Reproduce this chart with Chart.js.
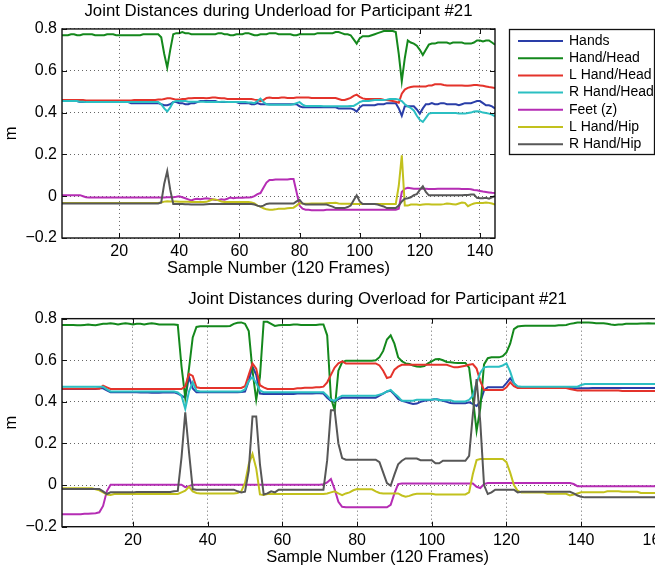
<!DOCTYPE html>
<html>
<head>
<meta charset="utf-8">
<script src="https://cdn.jsdelivr.net/npm/chart.js@4.4.0/dist/chart.umd.min.js"></script>
<style>
  html, body { margin: 0; padding: 0; background: #fff; overflow: hidden; width: 655px; height: 573px; }
  canvas { position: absolute; left: 0; }
  #top { top: 0; }
  #bottom { top: 280px; }
</style>
</head>
<body>
<canvas id="top" width="655" height="280"></canvas>
<canvas id="bottom" width="720" height="293"></canvas>
<script>
// series names and colours (MATLAB style)
var seriesNames = ['Hands', 'Hand/Head', 'L Hand/Head', 'R Hand/Head', 'Feet (z)', 'L Hand/Hip', 'R Hand/Hip'];
var seriesColors = ['#2a3ea8', '#14881c', '#e4332b', '#2bbfc2', '#b52db4', '#c2c11d', '#575757'];

var xTicksTop = [20, 40, 60, 80, 100, 120, 140];
var xTicksBottom = [20, 40, 60, 80, 100, 120, 140, 160];
var yTicks = [-0.2, 0, 0.2, 0.4, 0.6, 0.8];
var yTickLabels = ['\u22120.2', '0', '0.2', '0.4', '0.6', '0.8'];

// ---- Underload, samples 1..145 ----
var topHands = [0.455,0.455,0.455,0.455,0.455,0.455,0.45,0.45,0.45,0.45,
 0.45,0.45,0.45,0.45,0.45,0.45,0.45,0.45,0.45,0.45,
 0.45,0.45,0.45,0.445,0.445,0.445,0.445,0.445,0.445,0.445,
 0.445,0.445,0.445,0.44,0.435,0.435,0.44,0.45,0.45,0.445,
 0.445,0.44,0.44,0.445,0.445,0.45,0.455,0.455,0.455,0.455,
 0.455,0.455,0.45,0.45,0.45,0.45,0.45,0.45,0.45,0.445,
 0.445,0.445,0.445,0.44,0.44,0.445,0.44,0.44,0.44,0.44,
 0.44,0.44,0.44,0.44,0.44,0.44,0.44,0.44,0.44,0.43,
 0.425,0.425,0.425,0.425,0.425,0.425,0.425,0.425,0.425,0.425,
 0.425,0.425,0.42,0.42,0.42,0.42,0.42,0.415,0.405,0.425,
 0.435,0.435,0.435,0.435,0.435,0.44,0.44,0.44,0.445,0.445,
 0.445,0.445,0.42,0.385,0.43,0.43,0.43,0.43,0.415,0.395,
 0.42,0.44,0.44,0.445,0.44,0.44,0.445,0.445,0.44,0.44,
 0.44,0.44,0.435,0.44,0.445,0.445,0.445,0.45,0.455,0.455,
 0.445,0.435,0.435,0.43,0.42];
var topHandHead = [0.77,0.77,0.77,0.775,0.775,0.77,0.77,0.775,0.775,0.775,
 0.775,0.77,0.77,0.77,0.77,0.775,0.775,0.775,0.77,0.77,
 0.77,0.77,0.77,0.77,0.77,0.77,0.77,0.775,0.775,0.775,
 0.775,0.775,0.775,0.76,0.68,0.615,0.70,0.775,0.78,0.78,
 0.785,0.78,0.78,0.775,0.775,0.775,0.775,0.775,0.775,0.775,
 0.775,0.775,0.78,0.78,0.775,0.775,0.77,0.77,0.775,0.775,
 0.775,0.78,0.78,0.775,0.77,0.77,0.775,0.775,0.775,0.78,
 0.78,0.78,0.775,0.775,0.775,0.775,0.775,0.77,0.77,0.775,
 0.775,0.775,0.775,0.775,0.775,0.78,0.78,0.78,0.78,0.78,
 0.78,0.785,0.785,0.78,0.775,0.775,0.77,0.75,0.73,0.755,
 0.765,0.765,0.765,0.77,0.775,0.78,0.785,0.79,0.79,0.79,
 0.79,0.785,0.68,0.55,0.66,0.745,0.735,0.73,0.72,0.70,
 0.675,0.70,0.725,0.73,0.73,0.735,0.735,0.735,0.735,0.73,
 0.735,0.735,0.735,0.735,0.73,0.73,0.73,0.735,0.745,0.745,
 0.74,0.745,0.745,0.735,0.725];
var topLHandHead = [0.46,0.46,0.46,0.46,0.46,0.46,0.46,0.46,0.458,0.458,
 0.458,0.458,0.458,0.458,0.458,0.458,0.458,0.458,0.458,0.458,
 0.458,0.458,0.458,0.458,0.46,0.46,0.46,0.46,0.46,0.46,
 0.46,0.46,0.462,0.462,0.465,0.468,0.468,0.465,0.462,0.462,
 0.465,0.465,0.468,0.468,0.47,0.47,0.47,0.47,0.468,0.47,
 0.472,0.472,0.47,0.468,0.468,0.465,0.465,0.465,0.465,0.465,
 0.465,0.465,0.465,0.465,0.462,0.46,0.455,0.46,0.47,0.472,
 0.47,0.47,0.47,0.472,0.472,0.47,0.47,0.47,0.472,0.472,
 0.472,0.472,0.472,0.47,0.47,0.47,0.47,0.47,0.47,0.47,
 0.47,0.47,0.465,0.46,0.46,0.465,0.47,0.48,0.486,0.475,
 0.468,0.465,0.465,0.465,0.465,0.465,0.465,0.462,0.46,0.458,
 0.455,0.452,0.447,0.49,0.51,0.518,0.522,0.525,0.525,0.525,
 0.525,0.525,0.53,0.53,0.535,0.535,0.535,0.532,0.53,0.53,
 0.53,0.53,0.53,0.53,0.528,0.528,0.53,0.532,0.532,0.53,
 0.528,0.525,0.522,0.52,0.518];
var topRHandHead = [0.455,0.455,0.455,0.455,0.455,0.455,0.452,0.452,0.45,0.45,
 0.45,0.45,0.45,0.45,0.45,0.45,0.45,0.45,0.45,0.45,
 0.45,0.45,0.45,0.45,0.45,0.45,0.45,0.45,0.45,0.45,
 0.45,0.45,0.45,0.44,0.42,0.405,0.425,0.45,0.455,0.455,
 0.455,0.455,0.452,0.452,0.452,0.452,0.452,0.452,0.45,0.45,
 0.45,0.45,0.45,0.452,0.452,0.45,0.45,0.45,0.45,0.45,
 0.45,0.45,0.448,0.448,0.445,0.455,0.467,0.45,0.44,0.438,
 0.438,0.438,0.438,0.438,0.438,0.438,0.438,0.44,0.445,0.45,
 0.438,0.432,0.432,0.432,0.432,0.432,0.432,0.43,0.43,0.43,
 0.43,0.43,0.43,0.43,0.43,0.43,0.432,0.432,0.44,0.45,
 0.455,0.455,0.455,0.458,0.46,0.46,0.46,0.46,0.462,0.465,
 0.465,0.465,0.462,0.455,0.44,0.43,0.422,0.41,0.385,0.365,
 0.355,0.375,0.395,0.398,0.398,0.398,0.398,0.398,0.398,0.398,
 0.398,0.398,0.395,0.395,0.395,0.398,0.4,0.405,0.406,0.405,
 0.4,0.398,0.395,0.39,0.382];
var topFeet = [0.005,0.005,0.005,0.005,0.005,0.005,0.005,0,-0.005,-0.006,
 -0.006,-0.006,-0.006,-0.006,-0.006,-0.006,-0.006,-0.006,-0.006,-0.006,
 -0.006,-0.006,-0.006,-0.006,-0.006,-0.006,-0.006,-0.006,-0.006,-0.006,
 -0.006,-0.006,-0.006,-0.006,-0.006,-0.005,-0.005,-0.005,-0.003,0,
 -0.005,-0.01,-0.015,-0.02,-0.015,-0.012,-0.015,-0.012,-0.01,-0.012,
 -0.015,-0.018,-0.018,-0.015,-0.017,-0.012,-0.006,-0.01,-0.008,-0.008,
 -0.008,-0.006,-0.006,-0.005,0,0.01,0.015,0.04,0.065,0.078,
 0.078,0.08,0.08,0.08,0.08,0.08,0.082,0.082,0.02,-0.045,
 -0.06,-0.065,-0.065,-0.067,-0.067,-0.067,-0.067,-0.067,-0.065,-0.065,
 -0.065,-0.065,-0.065,-0.065,-0.065,-0.065,-0.065,-0.065,-0.065,-0.065,
 -0.065,-0.065,-0.065,-0.065,-0.065,-0.065,-0.065,-0.065,-0.065,-0.065,
 -0.065,-0.065,-0.06,0.02,0.035,0.04,0.038,0.036,0.036,0.036,
 0.036,0.036,0.035,0.035,0.035,0.036,0.036,0.036,0.036,0.036,
 0.036,0.036,0.036,0.035,0.035,0.035,0.033,0.03,0.028,0.025,
 0.022,0.02,0.018,0.016,0.015];
var topLHandHip = [-0.033,-0.033,-0.033,-0.033,-0.033,-0.033,-0.033,-0.033,-0.033,-0.033,
 -0.033,-0.033,-0.033,-0.033,-0.033,-0.033,-0.033,-0.033,-0.033,-0.033,
 -0.032,-0.032,-0.032,-0.032,-0.032,-0.032,-0.032,-0.032,-0.032,-0.032,
 -0.032,-0.032,-0.032,-0.03,-0.026,-0.024,-0.025,-0.025,-0.025,-0.026,
 -0.026,-0.027,-0.027,-0.028,-0.028,-0.028,-0.028,-0.028,-0.027,-0.022,
 -0.016,-0.016,-0.02,-0.025,-0.028,-0.028,-0.028,-0.028,-0.028,-0.028,
 -0.028,-0.028,-0.028,-0.03,-0.035,-0.045,-0.05,-0.058,-0.063,-0.065,
 -0.065,-0.063,-0.06,-0.06,-0.06,-0.058,-0.056,-0.055,-0.045,-0.033,
 -0.035,-0.036,-0.036,-0.035,-0.035,-0.035,-0.035,-0.035,-0.034,-0.033,
 -0.033,-0.032,-0.035,-0.036,-0.036,-0.036,-0.036,-0.037,-0.037,-0.037,
 -0.037,-0.037,-0.037,-0.037,-0.037,-0.037,-0.037,-0.037,-0.037,-0.037,
 -0.037,-0.037,0.05,0.195,-0.045,-0.045,-0.04,-0.04,-0.04,-0.042,
 -0.04,-0.038,-0.038,-0.04,-0.04,-0.04,-0.04,-0.038,-0.035,-0.036,
 -0.038,-0.04,-0.035,-0.03,-0.032,-0.048,-0.04,-0.035,-0.032,-0.032,
 -0.032,-0.03,-0.032,-0.035,-0.04];
var topRHandHip = [-0.035,-0.035,-0.035,-0.035,-0.035,-0.035,-0.035,-0.035,-0.035,-0.035,
 -0.035,-0.035,-0.035,-0.035,-0.035,-0.035,-0.035,-0.035,-0.035,-0.035,
 -0.035,-0.035,-0.035,-0.035,-0.035,-0.035,-0.035,-0.035,-0.035,-0.035,
 -0.035,-0.035,-0.035,-0.03,0.06,0.12,0.03,-0.037,-0.037,-0.037,
 -0.037,-0.038,-0.038,-0.04,-0.04,-0.04,-0.04,-0.04,-0.038,-0.037,
 -0.037,-0.037,-0.037,-0.037,-0.037,-0.037,-0.037,-0.037,-0.037,-0.037,
 -0.037,-0.037,-0.037,-0.037,-0.04,-0.045,-0.049,-0.045,-0.037,-0.035,
 -0.035,-0.035,-0.035,-0.035,-0.035,-0.035,-0.035,-0.035,-0.025,-0.017,
 -0.035,-0.04,-0.04,-0.04,-0.04,-0.04,-0.04,-0.04,-0.04,-0.045,
 -0.05,-0.057,-0.057,-0.057,-0.057,-0.052,-0.045,-0.02,0.004,-0.025,
 -0.037,-0.037,-0.037,-0.037,-0.037,-0.04,-0.045,-0.049,-0.057,-0.057,
 -0.057,-0.057,-0.045,-0.025,-0.012,-0.01,-0.005,0.005,0.01,0.03,
 0.047,0.02,0.004,0.004,0.004,0.004,0.004,0.004,0.004,0.004,
 0.004,0.004,0.004,0.004,0.006,0.006,0.008,0.008,-0.008,-0.01,
 -0.01,-0.008,-0.012,-0.005,0];

// ---- Overload, samples 1..170 ----
var botHands = [0.462,0.462,0.462,0.462,0.462,0.462,0.462,0.462,0.462,0.462,
 0.465,0.465,0.455,0.446,0.446,0.446,0.446,0.446,0.446,0.446,
 0.446,0.445,0.445,0.445,0.444,0.444,0.444,0.445,0.445,0.445,
 0.446,0.44,0.43,0.42,0.52,0.465,0.446,0.446,0.446,0.446,
 0.446,0.446,0.446,0.446,0.446,0.446,0.446,0.446,0.448,0.45,
 0.5,0.57,0.53,0.44,0.438,0.438,0.438,0.438,0.438,0.438,
 0.438,0.438,0.438,0.44,0.44,0.44,0.44,0.44,0.442,0.442,
 0.44,0.42,0.405,0.40,0.414,0.42,0.42,0.42,0.42,0.42,
 0.42,0.42,0.42,0.42,0.42,0.43,0.44,0.45,0.453,0.435,
 0.414,0.405,0.40,0.395,0.39,0.392,0.40,0.405,0.408,0.41,
 0.414,0.41,0.405,0.40,0.395,0.393,0.393,0.393,0.393,0.398,
 0.39,0.38,0.40,0.455,0.47,0.47,0.47,0.47,0.47,0.49,
 0.513,0.49,0.47,0.467,0.467,0.467,0.467,0.467,0.467,0.467,
 0.467,0.467,0.467,0.467,0.467,0.467,0.467,0.465,0.465,0.465,
 0.465,0.465,0.467,0.467,0.467,0.467,0.467,0.467,0.467,0.467,
 0.467,0.467,0.467,0.467,0.467,0.467,0.467,0.467,0.467,0.467,
 0.467,0.467,0.467,0.467,0.467,0.467,0.467,0.467,0.467,0.467];
var botHandHead = [0.77,0.77,0.77,0.77,0.768,0.768,0.77,0.772,0.77,0.768,
 0.772,0.775,0.775,0.778,0.775,0.772,0.775,0.778,0.775,0.772,
 0.775,0.775,0.772,0.775,0.778,0.775,0.772,0.772,0.772,0.772,
 0.772,0.77,0.57,0.42,0.56,0.71,0.76,0.763,0.763,0.763,
 0.763,0.763,0.763,0.763,0.763,0.765,0.775,0.78,0.782,0.775,
 0.74,0.55,0.41,0.52,0.785,0.785,0.775,0.765,0.768,0.77,
 0.77,0.77,0.772,0.772,0.77,0.77,0.77,0.77,0.77,0.772,
 0.772,0.72,0.42,0.36,0.55,0.59,0.598,0.598,0.598,0.598,
 0.598,0.598,0.598,0.598,0.6,0.615,0.645,0.70,0.72,0.68,
 0.614,0.595,0.585,0.582,0.575,0.57,0.569,0.572,0.585,0.595,
 0.605,0.606,0.6,0.592,0.59,0.588,0.587,0.587,0.587,0.565,
 0.42,0.26,0.37,0.58,0.61,0.614,0.614,0.614,0.62,0.638,
 0.68,0.75,0.762,0.765,0.766,0.766,0.766,0.766,0.766,0.766,
 0.766,0.766,0.766,0.768,0.768,0.77,0.775,0.778,0.782,0.782,
 0.782,0.782,0.78,0.778,0.778,0.778,0.775,0.772,0.77,0.772,
 0.772,0.775,0.775,0.775,0.775,0.777,0.777,0.778,0.777,0.777,
 0.777,0.777,0.778,0.778,0.778,0.777,0.777,0.777,0.777,0.777];
var botLHandHead = [0.463,0.463,0.463,0.463,0.463,0.463,0.463,0.463,0.463,0.463,
 0.463,0.478,0.47,0.462,0.462,0.462,0.462,0.462,0.462,0.462,
 0.462,0.462,0.462,0.462,0.462,0.462,0.462,0.462,0.462,0.462,
 0.462,0.462,0.462,0.475,0.534,0.525,0.47,0.467,0.467,0.467,
 0.467,0.467,0.467,0.467,0.467,0.467,0.467,0.467,0.467,0.475,
 0.53,0.585,0.56,0.48,0.47,0.462,0.462,0.462,0.462,0.462,
 0.462,0.462,0.462,0.465,0.465,0.468,0.468,0.468,0.47,0.47,
 0.473,0.494,0.53,0.565,0.585,0.595,0.585,0.585,0.585,0.585,
 0.585,0.585,0.585,0.585,0.585,0.575,0.55,0.515,0.52,0.555,
 0.569,0.578,0.578,0.578,0.578,0.578,0.578,0.578,0.578,0.578,
 0.578,0.578,0.578,0.578,0.572,0.566,0.566,0.57,0.574,0.578,
 0.582,0.56,0.5,0.457,0.457,0.457,0.457,0.457,0.457,0.47,
 0.494,0.475,0.467,0.467,0.467,0.467,0.467,0.467,0.467,0.467,
 0.467,0.467,0.467,0.467,0.467,0.467,0.462,0.458,0.455,0.455,
 0.455,0.455,0.455,0.455,0.455,0.455,0.455,0.455,0.455,0.455,
 0.452,0.452,0.452,0.452,0.452,0.452,0.452,0.452,0.452,0.452,
 0.452,0.452,0.452,0.452,0.452,0.452,0.452,0.452,0.452,0.452];
var botRHandHead = [0.473,0.473,0.473,0.473,0.473,0.473,0.473,0.473,0.473,0.473,
 0.473,0.473,0.46,0.45,0.45,0.45,0.45,0.45,0.45,0.45,
 0.45,0.45,0.45,0.45,0.45,0.45,0.45,0.45,0.45,0.45,
 0.45,0.445,0.43,0.366,0.45,0.494,0.454,0.45,0.45,0.45,
 0.45,0.45,0.45,0.45,0.45,0.45,0.45,0.45,0.45,0.46,
 0.50,0.52,0.49,0.455,0.446,0.446,0.446,0.446,0.446,0.446,
 0.446,0.446,0.446,0.446,0.446,0.446,0.446,0.446,0.446,0.446,
 0.446,0.43,0.41,0.405,0.42,0.43,0.43,0.43,0.43,0.43,
 0.43,0.43,0.43,0.43,0.43,0.435,0.44,0.45,0.457,0.44,
 0.425,0.405,0.405,0.405,0.405,0.41,0.41,0.41,0.41,0.41,
 0.414,0.408,0.408,0.408,0.408,0.402,0.402,0.402,0.402,0.41,
 0.43,0.49,0.54,0.566,0.569,0.569,0.569,0.569,0.575,0.585,
 0.545,0.49,0.475,0.473,0.473,0.473,0.473,0.473,0.473,0.473,
 0.473,0.473,0.473,0.473,0.473,0.473,0.473,0.473,0.473,0.481,
 0.486,0.486,0.486,0.486,0.486,0.486,0.486,0.486,0.486,0.486,
 0.486,0.486,0.486,0.486,0.486,0.486,0.486,0.486,0.486,0.486,
 0.486,0.486,0.486,0.486,0.486,0.486,0.486,0.486,0.486,0.486];
var botFeet = [-0.14,-0.14,-0.14,-0.14,-0.14,-0.14,-0.138,-0.138,-0.136,-0.135,
 -0.131,-0.1,-0.03,0.002,0.002,0.002,0.002,0.002,0.002,0.002,
 0.002,0.002,0.002,0.002,0.002,0.002,0.002,0.002,0.002,0.002,
 0.002,0.002,0.002,-0.01,-0.005,0.002,0.002,0.002,0.002,0.002,
 0.002,0.002,0.002,0.002,0.002,0.002,0.002,0.002,0.002,0.002,
 0.002,0.002,0.002,0.002,0.002,0.002,0.002,0.002,0.002,0.002,
 0.002,0.002,0.002,0.002,0.002,0.002,0.002,0.002,0.002,0.002,
 0.004,0.013,0.029,-0.02,-0.08,-0.104,-0.107,-0.107,-0.107,-0.107,
 -0.107,-0.107,-0.107,-0.107,-0.107,-0.107,-0.107,-0.107,-0.095,-0.04,
 0.005,0.008,0.008,0.008,0.008,0.008,0.008,0.008,0.008,0.008,
 0.008,0.008,0.008,0.008,0.008,0.008,0.008,0.008,0.008,0.008,
 0.008,-0.008,-0.014,0.005,0.01,0.01,0.01,0.01,0.01,0.01,
 0.01,0.01,0.01,0.01,0.01,0.01,0.01,0.01,0.01,0.01,
 0.01,0.01,0.01,0.01,0.01,0.01,0.01,0.005,-0.005,-0.005,
 -0.005,-0.005,-0.005,-0.005,-0.005,-0.005,-0.005,-0.005,-0.005,-0.005,
 -0.005,-0.005,-0.005,-0.005,-0.005,-0.005,-0.005,-0.005,-0.005,-0.005,
 -0.005,-0.005,-0.005,-0.005,-0.005,-0.005,-0.005,-0.005,-0.005,-0.005];
var botLHandHip = [-0.015,-0.015,-0.015,-0.015,-0.015,-0.015,-0.015,-0.015,-0.015,-0.02,
 -0.025,-0.035,-0.045,-0.048,-0.043,-0.043,-0.043,-0.043,-0.043,-0.043,
 -0.043,-0.043,-0.043,-0.043,-0.043,-0.043,-0.043,-0.043,-0.043,-0.043,
 -0.043,-0.043,-0.035,-0.027,-0.008,-0.03,-0.038,-0.04,-0.04,-0.04,
 -0.04,-0.04,-0.04,-0.04,-0.04,-0.04,-0.04,-0.038,-0.03,0.01,
 0.1,0.15,0.08,-0.045,-0.048,-0.043,-0.043,-0.043,-0.043,-0.043,
 -0.043,-0.043,-0.043,-0.043,-0.043,-0.043,-0.043,-0.043,-0.043,-0.043,
 -0.043,-0.04,-0.035,-0.03,-0.04,-0.048,-0.04,-0.035,-0.025,-0.019,
 -0.02,-0.02,-0.02,-0.02,-0.03,-0.038,-0.04,-0.04,-0.04,-0.04,
 -0.04,-0.05,-0.056,-0.052,-0.045,-0.042,-0.042,-0.042,-0.042,-0.042,
 -0.045,-0.045,-0.045,-0.045,-0.045,-0.045,-0.045,-0.045,-0.045,-0.035,
 0.053,0.12,0.125,0.125,0.125,0.125,0.125,0.125,0.125,0.11,
 0.06,0.0,-0.027,-0.036,-0.036,-0.036,-0.036,-0.036,-0.036,-0.036,
 -0.042,-0.042,-0.042,-0.042,-0.042,-0.042,-0.05,-0.045,-0.04,-0.035,
 -0.035,-0.035,-0.035,-0.035,-0.035,-0.035,-0.03,-0.03,-0.03,-0.03,
 -0.032,-0.032,-0.032,-0.032,-0.032,-0.038,-0.038,-0.038,-0.038,-0.038,
 -0.038,-0.038,-0.038,-0.038,-0.038,-0.038,-0.038,-0.038,-0.038,-0.038];
var botRHandHip = [-0.019,-0.019,-0.019,-0.019,-0.019,-0.019,-0.019,-0.019,-0.019,-0.019,
 -0.019,-0.03,-0.043,-0.035,-0.035,-0.035,-0.035,-0.035,-0.035,-0.035,
 -0.033,-0.033,-0.033,-0.033,-0.033,-0.033,-0.033,-0.033,-0.033,-0.033,
 -0.03,-0.028,0.133,0.35,0.16,-0.019,-0.022,-0.022,-0.022,-0.022,
 -0.022,-0.022,-0.022,-0.022,-0.022,-0.022,-0.022,-0.03,-0.035,-0.032,
 0.07,0.33,0.33,0.1,-0.045,-0.04,-0.03,-0.035,-0.022,-0.022,
 -0.022,-0.022,-0.022,-0.022,-0.022,-0.022,-0.022,-0.022,-0.022,-0.022,
 -0.022,0.12,0.36,0.36,0.2,0.13,0.122,0.122,0.122,0.122,
 0.122,0.122,0.122,0.122,0.122,0.11,0.06,0.01,-0.003,0.05,
 0.1,0.117,0.128,0.128,0.128,0.128,0.12,0.12,0.12,0.12,
 0.105,0.105,0.117,0.117,0.117,0.117,0.117,0.117,0.117,0.14,
 0.34,0.51,0.3,0.0,-0.043,-0.035,-0.022,-0.022,-0.022,-0.022,
 -0.022,-0.022,-0.035,-0.032,-0.032,-0.032,-0.032,-0.032,-0.032,-0.032,
 -0.032,-0.032,-0.032,-0.032,-0.032,-0.032,-0.032,-0.04,-0.05,-0.056,
 -0.059,-0.059,-0.059,-0.059,-0.059,-0.059,-0.059,-0.059,-0.059,-0.059,
 -0.059,-0.059,-0.059,-0.059,-0.059,-0.059,-0.059,-0.059,-0.059,-0.059,
 -0.059,-0.059,-0.059,-0.059,-0.059,-0.059,-0.059,-0.059,-0.059,-0.059];

var FONT = "'Liberation Sans', Arial, Helvetica, sans-serif";
Chart.defaults.font.family = FONT;
Chart.defaults.color = '#000';

function makeDatasets(list) {
	return list.map(function (values, i) {
		return {
			label: seriesNames[i],
			data: values.map(function (v, k) { return { x: k + 1, y: v }; }),
			borderColor: seriesColors[i],
			backgroundColor: seriesColors[i],
			borderWidth: 2,
			pointRadius: 0,
			tension: 0,
			order: list.length - i  // later series drawn on top, like MATLAB
		};
	});
}

// box round the axes and the little inward ticks
var boxPlugin = {
	id: 'box',
	afterDatasetsDraw: function (chart) {
		var ctx = chart.ctx, a = chart.chartArea, xs = chart.scales.x, ys = chart.scales.y;
		ctx.save();
		ctx.strokeStyle = '#111';
		ctx.lineWidth = 1;
		ctx.beginPath();
		xs.ticks.forEach(function (t) {
			var px = Math.round(xs.getPixelForValue(t.value)) + 0.5;
			ctx.moveTo(px, a.bottom); ctx.lineTo(px, a.bottom - 5);
			ctx.moveTo(px, a.top); ctx.lineTo(px, a.top + 5);
		});
		ys.ticks.forEach(function (t) {
			var py = Math.round(ys.getPixelForValue(t.value)) + 0.5;
			ctx.moveTo(a.left, py); ctx.lineTo(a.left + 5, py);
			ctx.moveTo(a.right, py); ctx.lineTo(a.right - 5, py);
		});
		ctx.stroke();
		ctx.lineWidth = 1.4;
		ctx.strokeRect(a.left, a.top, a.right - a.left, a.bottom - a.top);
		ctx.restore();
	}
};

// MATLAB-like boxed legend to the right of the upper plot
var legendPlugin = {
	id: 'boxLegend',
	afterDraw: function (chart) {
		var ctx = chart.ctx;
		var x0 = 509.5, y0 = 29.5, w = 145, h = 125;
		ctx.save();
		ctx.fillStyle = '#fff';
		ctx.fillRect(x0, y0, w, h);
		ctx.strokeStyle = '#111';
		ctx.lineWidth = 1.3;
		ctx.strokeRect(x0, y0, w, h);
		ctx.font = '14px ' + FONT;
		ctx.textBaseline = 'middle';
		ctx.textAlign = 'left';
		seriesNames.forEach(function (name, i) {
			var yy = 41 + i * 17.2;
			ctx.strokeStyle = seriesColors[i];
			ctx.lineWidth = 2;
			ctx.beginPath();
			ctx.moveTo(518, yy); ctx.lineTo(563, yy);
			ctx.stroke();
			ctx.fillStyle = '#000';
			ctx.fillText(name, 569, yy);
		});
		ctx.restore();
	}
};

function makeChart(id, opts) {
	var font = { size: 16, family: FONT };
	var labelFont = { size: 16.5, family: FONT };
	var titleFont = { size: 16.8, family: FONT, weight: 'normal' };
	return new Chart(document.getElementById(id).getContext('2d'), {
		type: 'line',
		data: { datasets: makeDatasets(opts.series) },
		options: {
			responsive: false,
			animation: false,
			devicePixelRatio: 1,
			layout: { padding: { left: 0, right: opts.padRight, top: 0, bottom: 0 } },
			plugins: {
				legend: { display: false },
				tooltip: { enabled: false },
				title: {
					display: true, text: opts.title, font: titleFont, color: '#000',
					fullSize: false, padding: opts.titlePad
				}
			},
			scales: {
				x: {
					type: 'linear', min: 1, max: opts.xMax,
					afterBuildTicks: function (s) { s.ticks = opts.xTicks.map(function (v) { return { value: v }; }); },
					afterFit: function (s) { s.height = opts.xAxisHeight; },
					ticks: { font: font, color: '#000', padding: 4.4, maxRotation: 0, autoSkip: false },
					title: { display: true, text: 'Sample Number (120 Frames)', font: labelFont, color: '#000', padding: { top: 0, bottom: opts.xTitleBottom } },
					grid: { color: 'rgba(0,0,0,0.6)', lineWidth: 1, drawTicks: false },
					border: { display: false, dash: [1, 3] }
				},
				y: {
					min: -0.2, max: 0.8,
					afterBuildTicks: function (s) { s.ticks = yTicks.map(function (v) { return { value: v }; }); },
					afterFit: function (s) { s.width = 62; },
					ticks: {
						font: font, color: '#000', padding: 5,
						callback: function (v, i) { return yTickLabels[i]; }
					},
					title: { display: true, text: 'm', font: labelFont, color: '#000', padding: { top: 2, bottom: 0 } },
					grid: { color: 'rgba(0,0,0,0.6)', lineWidth: 1, drawTicks: false },
					border: { display: false, dash: [1, 3] }
				}
			}
		},
		plugins: opts.plugins
	});
}

makeChart('top', {
	title: 'Joint Distances during Underload for Participant #21',
	series: [topHands, topHandHead, topLHandHead, topRHandHead, topFeet, topLHandHip, topRHandHip],
	xMax: 145, xTicks: xTicksTop, padRight: 160,
	titlePad: { top: 1.0, bottom: 7.8 }, xAxisHeight: 42, xTitleBottom: 1.6,
	plugins: [boxPlugin, legendPlugin]
});

makeChart('bottom', {
	title: 'Joint Distances during Overload for Participant #21',
	series: [botHands, botHandHead, botLHandHead, botRHandHead, botFeet, botLHandHip, botRHandHip],
	xMax: 170, xTicks: xTicksBottom, padRight: 26.8,
	titlePad: { top: 9.5, bottom: 9.0 }, xAxisHeight: 46.3, xTitleBottom: 6.0,
	plugins: [boxPlugin]
});
</script>
</body>
</html>
